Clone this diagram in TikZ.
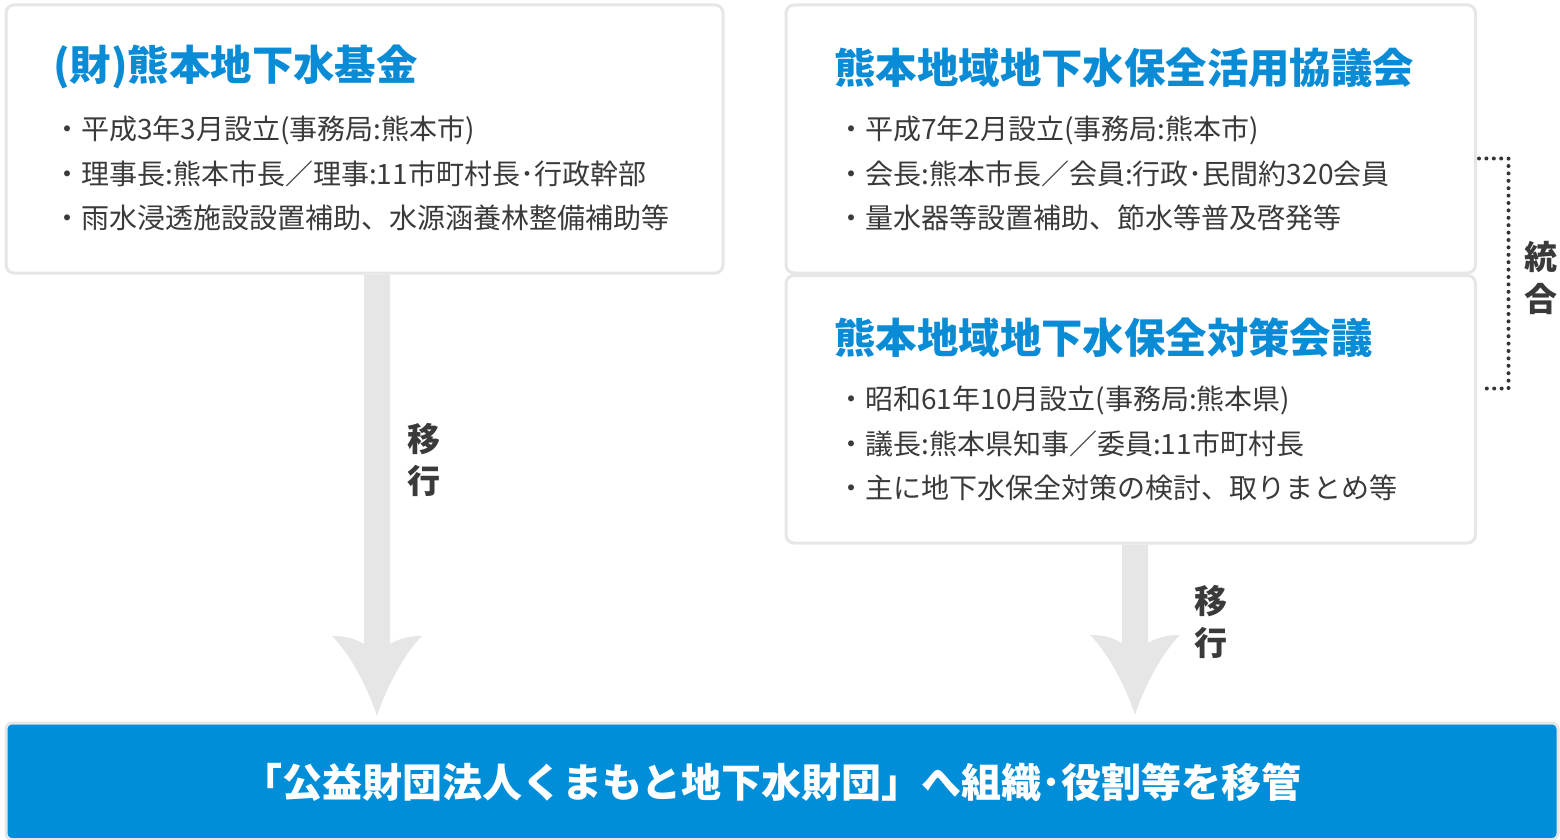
\documentclass[tikz,border=0pt]{standalone}
\usepackage{fontspec}
\setmainfont{Noto Sans CJK JP}
\usetikzlibrary{calc}
\definecolor{boxline}{HTML}{E6E6E6}
\definecolor{titleblue}{HTML}{0A8BD6}
\definecolor{barblue}{HTML}{008ED9}
\definecolor{bodytext}{HTML}{3A3A3A}
\definecolor{dotgray}{HTML}{333333}
\newcommand\bigdownarrow[2]{%
  \fill[boxline] ($(#1)+(-13,0)$) -- ($(#2)+(-13,-72)$)
    .. controls ($(#2)+(-25,-79)$) and ($(#2)+(-35,-80)$) .. ($(#2)+(-45,-80)$)
    .. controls ($(#2)+(-27,-62)$) and ($(#2)+(-9,-28)$) .. (#2)
    .. controls ($(#2)+(9,-28)$) and ($(#2)+(27,-62)$) .. ($(#2)+(45,-80)$)
    .. controls ($(#2)+(35,-80)$) and ($(#2)+(25,-79)$) .. ($(#2)+(13,-72)$)
    -- ($(#1)+(13,0)$) -- cycle;}
\begin{document}
\begin{tikzpicture}[x=0.5pt,y=-0.5pt,
  panel/.style={draw=boxline, line width=1.5pt, fill=white, rounded corners=4pt, anchor=north west, inner sep=0pt},
  ttl/.style={anchor=west, inner sep=0pt, text=titleblue, font=\fontsize{20.7}{24}\selectfont\bfseries},
  body/.style={anchor=west, inner sep=0pt, text=bodytext, font=\fontsize{14}{16}\selectfont},
  vlabel/.style={inner sep=0pt, text=bodytext, font=\fontsize{16.5}{21}\selectfont\bfseries, align=center},
  bartext/.style={inner sep=0pt, text=white, font=\fontsize{20}{24}\selectfont\bfseries},
  dotline/.style={draw=dotgray, line width=2pt, line cap=round, dash pattern=on 0pt off 3.7pt},
]
\useasboundingbox (0,0) rectangle (1560,840);
% panels
\node[panel, minimum width=358.5pt, minimum height=134pt] (fund) at (4.5,3.5) {};
\node[panel, minimum width=344.75pt, minimum height=134pt] (kyogikai) at (784.5,3.5) {};
\node[panel, minimum width=344.75pt, minimum height=133.75pt] (kaigi) at (784.5,274) {};
\node[panel, fill=barblue, minimum width=776pt, minimum height=58.25pt, rounded corners=3pt] (bar) at (4.5,721.5) {};
% arrows
\coordinate (ltip) at (377,716);
\coordinate (rtip) at (1135,715);
\bigdownarrow{fund.south -| ltip}{ltip}
\bigdownarrow{kaigi.south -| rtip}{rtip}
% texts left
\node[ttl] (t1) at (53,67) {(財)熊本地下水基金};
\node[body] (l1) at (53,130) {・平成3年3月設立(事務局:熊本市)};
\node[body] (l2) at (53,174) {・理事長:熊本市長／理事:11市町村長･行政幹部};
\node[body] (l3) at (53,218) {・雨水浸透施設設置補助、水源涵養林整備補助等};
% texts right top
\node[ttl] (t2) at (834,68) {熊本地域地下水保全活用協議会};
\node[body] (r1) at (837,130) {・平成7年2月設立(事務局:熊本市)};
\node[body] (r2) at (837,174) {・会長:熊本市長／会員:行政･民間約320会員};
\node[body] (r3) at (837,218) {・量水器等設置補助、節水等普及啓発等};
% texts right bottom
\node[ttl] (t3) at (834,338) {熊本地域地下水保全対策会議};
\node[body] (s1) at (837,400) {・昭和61年10月設立(事務局:熊本県)};
\node[body] (s2) at (837,444) {・議長:熊本県知事／委員:11市町村長};
\node[body] (s3) at (837,488) {・主に地下水保全対策の検討、取りまとめ等};
% labels
\node[vlabel] (m1) at (424,460) {移\\行};
\node[vlabel] (m2) at (1211,622) {移\\行};
\node[vlabel] (tg) at (1541,278) {統\\合};
% bracket
\coordinate (b1) at (1479,158.5);
\coordinate (b2) at (1508.5,158.5);
\coordinate (b3) at (1508.5,388.5);
\coordinate (b4) at (1480,388.5);
\draw[dotline] (b1) -- (b2) -- (b3) -- (b4);
% bar text
\node[bartext] (bt) at (772,782) {「公益財団法人くまもと地下水財団」へ組織･役割等を移管};
\end{tikzpicture}
\end{document}
